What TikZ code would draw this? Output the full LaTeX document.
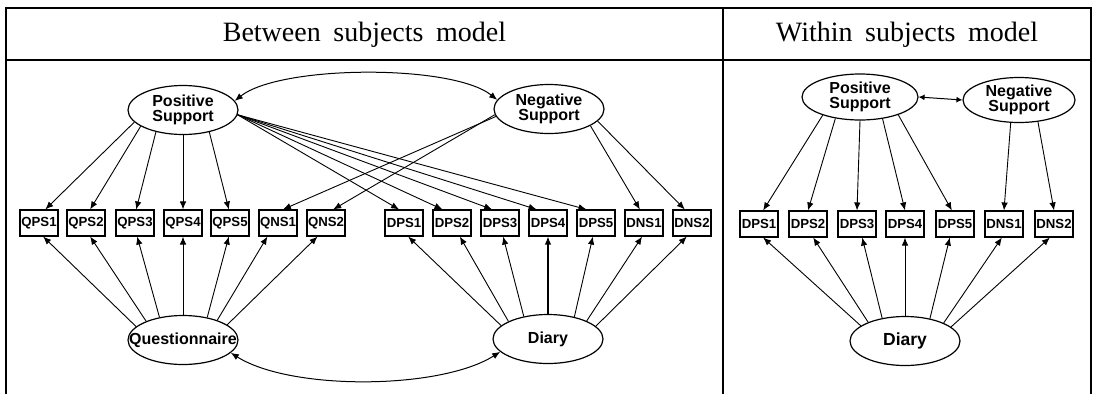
\documentclass[tikz,border=0pt]{standalone}
\usepackage{fontspec}
\setmainfont{Liberation Serif}
\setsansfont{Liberation Sans}
\usetikzlibrary{arrows.meta,shapes.geometric}
\begin{document}
\begin{tikzpicture}[x=1pt,y=-1pt,
  lat/.style={draw, ellipse, line width=1.2pt, inner sep=0pt, minimum width=110pt, minimum height=49pt},
  latlab/.style={font=\sffamily\bfseries\fontsize{16}{15}\selectfont, align=center, inner sep=0pt},
  obs/.style={draw, rectangle, line width=1.1pt, inner sep=0pt, minimum width=38pt, minimum height=26pt, font=\sffamily\bfseries\fontsize{13.2}{13}\selectfont},
  lnk/.style={-{Latex[length=8pt,width=6.5pt]}, line width=0.9pt},
  cov/.style={{Latex[length=8pt,width=6.5pt]}-{Latex[length=8pt,width=6.5pt]}, line width=1pt},
  covs/.style={{Latex[length=6pt,width=6pt]}-{Latex[length=6pt,width=6pt]}, line width=1pt},
  frm/.style={line width=1.3pt},
  hdr/.style={font=\fontsize{28}{30}\selectfont, inner sep=0pt}]
\useasboundingbox (0,0) rectangle (1094,394);
% frame
\draw[frm] (6,394) -- (6,8) -- (1091,8) -- (1091,394);
\draw[frm] (6,60) -- (1091,60);
\draw[frm] (723,8) -- (723,394);
% headers
\node[hdr] (hb) at (364.5,35) {Between\hspace{0.45em}subjects\hspace{0.45em}model};
\node[hdr] (hw) at (907,35) {Within\hspace{0.45em}subjects\hspace{0.45em}model};
% between latent
\node[lat] (P) at (183,110) {};
\node[latlab] (Pl) at (P) {Positive\\Support};
\node[lat] (N) at (549,109) {};
\node[latlab] (Nl) at (N) {Negative\\Support};
\node[lat] (Q) at (183,340) {};
\node[latlab] (Ql) at (Q) {Questionnaire};
\node[lat] (D) at (548,339) {};
\node[latlab] (Dl) at (D) {Diary};
% between observed
\node[obs] (QPS1) at (39,223) {QPS1};
\node[obs] (QPS2) at (86,223) {QPS2};
\node[obs] (QPS3) at (135,223) {QPS3};
\node[obs] (QPS4) at (183,223) {QPS4};
\node[obs] (QPS5) at (230,223) {QPS5};
\node[obs] (QNS1) at (278,223) {QNS1};
\node[obs] (QNS2) at (326,223) {QNS2};
\node[obs] (DPS1) at (404,223) {DPS1};
\node[obs] (DPS2) at (452,223) {DPS2};
\node[obs] (DPS3) at (500,223) {DPS3};
\node[obs] (DPS4) at (548,223) {DPS4};
\node[obs] (DPS5) at (596,223) {DPS5};
\node[obs] (DNS1) at (644,223) {DNS1};
\node[obs] (DNS2) at (692,223) {DNS2};
% between connectors
\draw[lnk] (P.194) -- (QPS1.65);
\draw[lnk] (P.201) -- (QPS2.73);
\draw[lnk] (P.219) -- (QPS3.85);
\draw[lnk] (P.270) -- (QPS4.north);
\draw[lnk] (P.320) -- (QPS5.95);
\draw[lnk] (P.-5) -- (DPS1.110);
\draw[lnk] (P.-5) -- (DPS2.125);
\draw[lnk] (P.-5) -- (DPS3.120);
\draw[lnk] (P.-5) -- (DPS4.130);
\draw[lnk] (P.-5) -- (DPS5.125);
\draw[lnk] (N.-172) -- (QNS1.70);
\draw[lnk] (N.-174) -- (QNS2.62);
\draw[lnk] (N.-22) -- (DNS1.107);
\draw[lnk] (N.-14) -- (DNS2.118);
\draw[lnk] (Q.164) -- (QPS1.-73);
\draw[lnk] (Q.153) -- (QPS2.-73);
\draw[lnk] (Q.136) -- (QPS3.-81);
\draw[lnk] (Q.90) -- (QPS4.south);
\draw[lnk] (Q.43) -- (QPS5.-95);
\draw[lnk] (Q.30) -- (QNS1.-128);
\draw[lnk] (Q.19) -- (QNS2.-122);
\draw[lnk] (D.164) -- (DPS1.-73);
\draw[lnk] (D.156) -- (DPS2.-60);
\draw[lnk] (D.137) -- (DPS3.-77);
\draw[lnk, line width=1.2pt] (D.90) -- (DPS4.south);
\draw[lnk] (D.40) -- (DPS5.-103);
\draw[lnk] (D.25) -- (DNS1.-98);
\draw[lnk] (D.15) -- (DNS2.-111);
\draw[cov] (P.10) .. controls +(45,-36) and +(-45,-36) .. (N.170);
\draw[cov] (Q.-15) .. controls +(60,38) and +(-60,38) .. (D.-165);
% within latent
\node[lat, minimum width=116pt, minimum height=46pt] (WP) at (860,97) {};
\node[latlab] (WPl) at (WP) {Positive\\Support};
\node[lat, minimum width=112pt, minimum height=45pt] (WN) at (1019,100) {};
\node[latlab] (WNl) at (WN) {Negative\\Support};
\node[lat] (WD) at (905,341) {};
\node[latlab, font=\sffamily\bfseries\fontsize{17.5}{17}\selectfont] (WDl) at (WD) {Diary};
% within observed
\node[obs] (WDPS1) at (759,224) {DPS1};
\node[obs] (WDPS2) at (808,224) {DPS2};
\node[obs] (WDPS3) at (857,224) {DPS3};
\node[obs] (WDPS4) at (905,224) {DPS4};
\node[obs] (WDPS5) at (955,224) {DPS5};
\node[obs] (WDNS1) at (1004,224) {DNS1};
\node[obs] (WDNS2) at (1054,224) {DNS2};
% within connectors
\draw[lnk] (WP.206) -- (WDPS1.73);
\draw[lnk] (WP.221) -- (WDPS2.north);
\draw[lnk] (WP.270) -- (WDPS3.north);
\draw[lnk] (WP.316) -- (WDPS4.north);
\draw[lnk] (WP.335) -- (WDPS5.103);
\draw[lnk] (WN.250) -- (WDNS1.north);
\draw[lnk] (WN.311) -- (WDNS2.north);
\draw[lnk] (WD.161) -- (WDPS1.-73);
\draw[lnk] (WD.153) -- (WDPS2.-69);
\draw[lnk] (WD.135) -- (WDPS3.-69);
\draw[lnk] (WD.90) -- (WDPS4.south);
\draw[lnk] (WD.42) -- (WDPS5.-111);
\draw[lnk] (WD.25) -- (WDNS1.-99);
\draw[lnk] (WD.17) -- (WDNS2.-107);
\draw[covs] (WP.east) -- (WN.west);
\end{tikzpicture}
\end{document}
